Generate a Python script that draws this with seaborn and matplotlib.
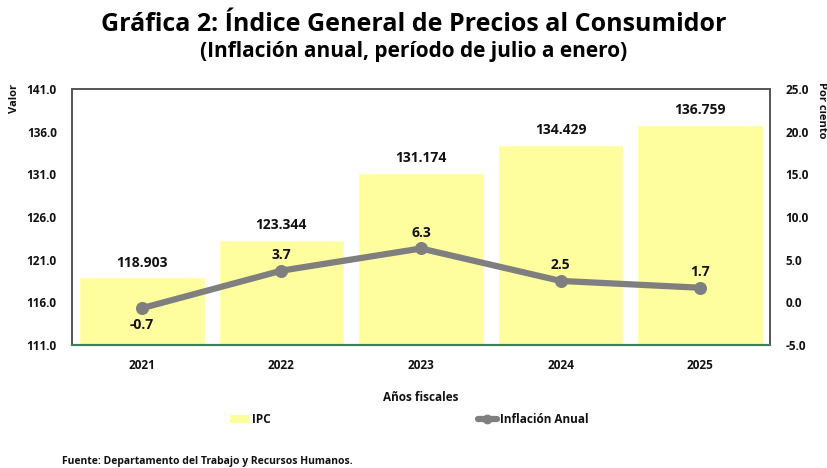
import numpy as np
import pandas as pd
import matplotlib
matplotlib.use("Agg")
import matplotlib.pyplot as plt
import seaborn as sns
from matplotlib.patches import Patch
from matplotlib.lines import Line2D

# datos
anios = ["2021", "2022", "2023", "2024", "2025"]
ipc = [118.903, 123.344, 131.174, 134.429, 136.759]
inflacion = [-0.7, 3.7, 6.3, 2.5, 1.7]

sns.set_style("white")
plt.rcParams["font.family"] = ["Open Sans", "DejaVu Sans"]
plt.rcParams["font.weight"] = "bold"
plt.rcParams["text.color"] = "#111111"
plt.rcParams["axes.labelcolor"] = "#111111"

df = pd.DataFrame({"Año": anios, "IPC": ipc, "Inflacion": inflacion})

fig = plt.figure(figsize=(8.27, 4.68), dpi=100)
ax = fig.add_axes([0.087, 0.263, 0.844, 0.547])

amarillo = "#FFFE9E"
gris = "#7F7F7F"

sns.barplot(data=df, x="Año", y="IPC", color=amarillo, width=0.9,
            saturation=1, ax=ax)
ax.set_ylim(111, 141)
ax.set_yticks(np.arange(111, 142, 5))
ax.set_yticklabels([f"{v:.1f}" for v in np.arange(111, 142, 5)])
ax.set_xlim(-0.5, 4.5)

for i, v in enumerate(ipc):
    ax.text(i, v + 0.9, f"{v:.3f}", ha="center", va="bottom",
            fontsize=10, fontweight="bold", color="#111111")

ax2 = ax.twinx()
sns.pointplot(data=df, x="Año", y="Inflacion", color=gris, ax=ax2,
              linewidth=4.5, markersize=6, markers="o")
ax2.set_ylim(-5, 25)
ax2.set_yticks(np.arange(-5, 26, 5))
ax2.set_yticklabels([f"{v:.1f}" for v in np.arange(-5, 26, 5)])
ax2.set_xlim(-0.5, 4.5)

for i, v in enumerate(inflacion):
    if v < 0:
        ax2.text(i, v - 1.2, f"{v:.1f}", ha="center", va="top",
                 fontsize=10, fontweight="bold", color="#111111")
    else:
        ax2.text(i, v + 1.0, f"{v:.1f}", ha="center", va="bottom",
                 fontsize=10, fontweight="bold", color="#111111")

for a in (ax, ax2):
    for s in ("top", "left", "right"):
        a.spines[s].set_color("#555555")
        a.spines[s].set_linewidth(1.2)
    a.spines["bottom"].set_color("#3E7F5E")
    a.spines["bottom"].set_linewidth(1.5)
    a.set_xlabel("")
    a.set_ylabel("")

ax.tick_params(axis="y", labelsize=8.5, length=0, pad=11)
ax.tick_params(axis="x", labelsize=8.5, length=0, pad=10)
ax2.tick_params(axis="y", labelsize=8.5, length=0, pad=11)
for lbl in ax.get_xticklabels() + ax.get_yticklabels() + ax2.get_yticklabels():
    lbl.set_fontweight("bold")
    lbl.set_color("#111111")

fig.text(0.018, 0.79, "Valor", rotation=90, ha="center", va="center",
         fontsize=8, fontweight="bold")
fig.text(0.993, 0.765, "Por ciento", rotation=270, ha="center", va="center",
         fontsize=8, fontweight="bold")

ax.set_xlabel("Años fiscales", fontsize=8.5, fontweight="bold", labelpad=14,
              color="#111111")

fig.text(0.5, 0.948, "Gráfica 2: Índice General de Precios al Consumidor",
         ha="center", va="center", fontsize=18, fontweight="bold",
         color="black")
fig.text(0.5, 0.89, "(Inflación anual, período de julio a enero)",
         ha="center", va="center", fontsize=15, fontweight="bold",
         color="black")

handles = [Patch(facecolor=amarillo, edgecolor="none", label="IPC"),
           Line2D([0], [0], color=gris, lw=4.5, marker="o", markersize=6,
                  label="Inflación Anual")]
leg = fig.legend(handles=handles, loc="center", bbox_to_anchor=(0.495, 0.103),
                 ncol=2, frameon=False, fontsize=8.5, columnspacing=17.5,
                 handlelength=1.6, handletextpad=0.3)
for t in leg.get_texts():
    t.set_color("#111111")

fig.text(0.075, 0.003, "Fuente: Departamento del Trabajo y Recursos Humanos.",
         ha="left", va="bottom", fontsize=7.5, fontweight="bold")

fig.savefig("out.png", dpi=100)
